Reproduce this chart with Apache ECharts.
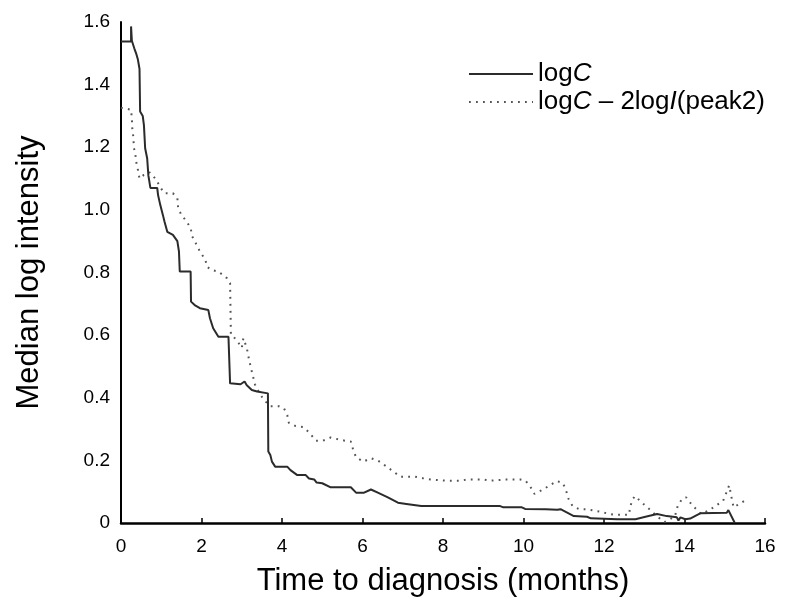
<!DOCTYPE html>
<html>
<head>
<meta charset="utf-8">
<script src="https://cdn.jsdelivr.net/npm/echarts@6/dist/echarts.min.js"></script>
<style>
html,body{margin:0;padding:0;background:#fff;}
#chart{width:786px;height:610px;}
</style>
</head>
<body>
<div id="chart"></div>
<script>
// Tick labels
const xTicks = [0, 2, 4, 6, 8, 10, 12, 14, 16];
const yTicks = [0, 0.2, 0.4, 0.6, 0.8, 1.0, 1.2, 1.4, 1.6];

// Series names
const seriesNames = ['logC', 'logC \u2013 2logI(peak2)'];

// logC (months, median log intensity)
const logC = [
  [0,1.538],[0.25,1.538],[0.25,1.586],[0.27,1.54],[0.33,1.516],[0.375,1.50],[0.42,1.48],[0.46,1.45],
  [0.475,1.314],[0.54,1.30],[0.57,1.27],[0.6,1.197],[0.65,1.165],[0.68,1.11],[0.73,1.07],[0.90,1.07],
  [0.92,1.048],[0.975,1.016],[1.04,0.984],[1.08,0.963],[1.15,0.93],[1.29,0.92],[1.40,0.90],[1.44,0.867],
  [1.46,0.803],[1.73,0.803],[1.74,0.707],[1.83,0.696],[1.96,0.686],[2.17,0.68],[2.21,0.654],[2.29,0.622],
  [2.42,0.595],[2.67,0.595],[2.71,0.446],[2.97,0.443],[3.07,0.452],[3.125,0.44],[3.25,0.425],[3.38,0.42],
  [3.65,0.414],[3.66,0.228],[3.71,0.217],[3.75,0.196],[3.83,0.180],[4.13,0.18],[4.21,0.169],[4.38,0.153],
  [4.59,0.153],[4.67,0.142],[4.8,0.139],[4.86,0.129],[5.0,0.127],[5.21,0.114],[5.71,0.114],[5.84,0.097],
  [6.04,0.097],[6.21,0.107],[6.38,0.097],[6.63,0.082],[6.88,0.065],[7.09,0.061],[7.46,0.054],[9.42,0.054],
  [9.5,0.05],[9.96,0.05],[10.04,0.045],[10.55,0.044],[10.84,0.042],[10.92,0.044],[11.25,0.022],[11.58,0.02],
  [11.67,0.015],[12.33,0.012],[12.78,0.012],[13.03,0.02],[13.32,0.029],[13.56,0.022],[13.81,0.018],[13.85,0.008],
  [13.9,0.018],[14.02,0.012],[14.14,0.014],[14.39,0.031],[15.05,0.033],[15.09,0.041],[15.25,0.0]
];

// logC - 2logI(peak2)
const logCminus = [
  [0,1.326],[0.25,1.32],[0.27,1.29],[0.28,1.26],[0.31,1.229],[0.32,1.197],[0.35,1.186],[0.375,1.155],
  [0.42,1.128],[0.46,1.10],[0.57,1.112],[0.71,1.12],[0.88,1.096],[0.96,1.075],[1.08,1.053],[1.29,1.053],
  [1.40,1.037],[1.42,1.005],[1.50,0.984],[1.63,0.963],[1.73,0.942],[1.77,0.915],[1.88,0.888],[1.96,0.867],
  [2.10,0.84],[2.13,0.819],[2.25,0.808],[2.42,0.803],[2.63,0.782],[2.71,0.766],[2.73,0.601],[2.79,0.596],
  [2.92,0.575],[3.0,0.559],[3.04,0.59],[3.08,0.59],[3.125,0.559],[3.19,0.516],[3.25,0.484],[3.33,0.442],
  [3.46,0.41],[3.58,0.389],[3.71,0.373],[3.92,0.373],[4.05,0.366],[4.13,0.345],[4.17,0.32],[4.33,0.31],
  [4.53,0.306],[4.69,0.287],[4.84,0.263],[5.02,0.263],[5.21,0.273],[5.4,0.267],[5.56,0.263],[5.71,0.26],
  [5.77,0.233],[5.84,0.21],[6.02,0.196],[6.21,0.207],[6.39,0.199],[6.58,0.182],[6.77,0.164],[6.94,0.148],
  [7.3,0.148],[7.5,0.143],[7.69,0.139],[7.88,0.137],[8.08,0.135],[8.43,0.135],[8.61,0.139],[9.0,0.139],
  [9.17,0.135],[9.36,0.137],[9.55,0.139],[9.92,0.139],[10.05,0.135],[10.17,0.116],[10.27,0.093],[10.46,0.105],
  [10.65,0.12],[10.83,0.134],[10.98,0.127],[11.06,0.103],[11.12,0.077],[11.22,0.054],[11.39,0.044],[11.57,0.044],
  [11.75,0.04],[11.94,0.035],[12.13,0.029],[12.31,0.026],[12.62,0.026],[12.65,0.05],[12.7,0.074],[12.77,0.086],
  [12.96,0.063],[13.13,0.044],[13.31,0.022],[13.5,0.003],[13.76,0.02],[13.83,0.054],[13.94,0.077],[14.04,0.082],
  [14.19,0.057],[14.41,0.029],[14.6,0.04],[14.79,0.056],[14.96,0.071],[15.04,0.097],[15.11,0.12],[15.18,0.074],
  [15.22,0.05],[15.39,0.063],[15.58,0.078]
];

const FONT = '"Liberation Sans", Arial, Helvetica, sans-serif';
const chart = echarts.init(document.getElementById('chart'), null, {renderer: 'canvas'});

chart.setOption({
  animation: false,
  backgroundColor: '#ffffff',
  grid: {left: 121, right: 21, top: 22, bottom: 87, containLabel: false},
  legend: {
    orient: 'vertical',
    left: 463,
    top: 56,
    itemWidth: 64,
    itemHeight: 14,
    itemGap: 2,
    data: seriesNames,
    itemStyle: {opacity: 0},
    formatter: function (name) {
      if (name === seriesNames[0]) return 'log{i|C}';
      return 'log{i|C} \u2013 2log{i|I}(peak2)';
    },
    textStyle: {
      fontFamily: FONT, fontSize: 26, color: '#000',
      rich: {i: {fontStyle: 'italic', fontFamily: FONT, fontSize: 26, color: '#000'}}
    }
  },
  xAxis: {
    type: 'value',
    min: xTicks[0], max: xTicks[xTicks.length - 1], interval: 2,
    name: 'Time to diagnosis (months)',
    nameLocation: 'middle',
    nameGap: 43,
    nameTextStyle: {fontFamily: FONT, fontSize: 31, color: '#000'},
    axisLine: {show: true, onZero: false, lineStyle: {color: '#000', width: 2.5}},
    axisTick: {show: true, inside: true, length: 5, lineStyle: {color: '#000', width: 1.5}},
    axisLabel: {fontFamily: FONT, fontSize: 19, color: '#000', margin: 14},
    splitLine: {show: false}
  },
  yAxis: {
    type: 'value',
    min: yTicks[0], max: yTicks[yTicks.length - 1], interval: 0.2,
    name: 'Median log intensity',
    nameLocation: 'middle',
    nameGap: 76,
    nameTextStyle: {fontFamily: FONT, fontSize: 31, color: '#000'},
    axisLine: {show: true, onZero: false, lineStyle: {color: '#000', width: 2}},
    axisTick: {show: false},
    axisLabel: {
      fontFamily: FONT, fontSize: 19, color: '#000', margin: 11,
      formatter: function (v) { return v === 0 ? '0' : v.toFixed(1); }
    },
    splitLine: {show: false}
  },
  series: [
    {
      name: seriesNames[0],
      type: 'line',
      data: logC,
      symbol: 'none',
      lineStyle: {color: '#2b2b2b', width: 2},
      itemStyle: {color: '#2b2b2b'},
      z: 3
    },
    {
      name: seriesNames[1],
      type: 'line',
      data: logCminus,
      symbol: 'none',
      lineStyle: {color: '#555555', width: 2, type: [1.8, 5.2]},
      itemStyle: {color: '#555555'},
      z: 2
    }
  ]
});
</script>
</body>
</html>
